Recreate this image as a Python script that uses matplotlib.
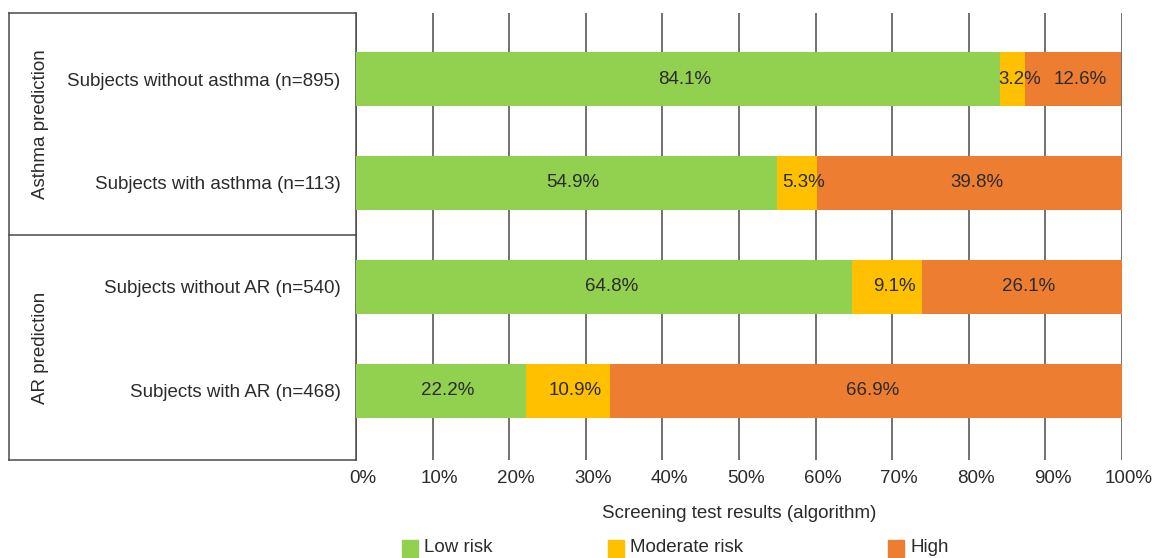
import numpy as np
import matplotlib
matplotlib.use("Agg")
import matplotlib.pyplot as plt
from matplotlib.patches import Rectangle
from matplotlib.lines import Line2D
import matplotlib.transforms as mtransforms

plt.rcParams['font.family'] = ['Liberation Sans', 'DejaVu Sans']

categories = ["Subjects without asthma (n=895)", "Subjects with asthma (n=113)",
              "Subjects without AR (n=540)", "Subjects with AR (n=468)"]
groups = ["Asthma prediction", "AR prediction"]
low_risk = [84.1, 54.9, 64.8, 22.2]
moderate_risk = [3.2, 5.3, 9.1, 10.9]
high_risk = [12.6, 39.8, 26.1, 66.9]
series_names = ["Low risk", "Moderate risk", "High"]
colors = ["#92D050", "#FFC000", "#ED7D31"]
xticks = list(range(0, 101, 10))

text_col = "#2b2b2b"
grid_col = "#4a4a4a"
fs = 13.5

fig = plt.figure(figsize=(11.58, 5.58), dpi=100)
ax = fig.add_axes([356 / 1158, 1 - 460 / 558, 766 / 1158, 447 / 558])

y = np.arange(len(categories))
left = np.zeros(len(categories))
for vals, col in zip([low_risk, moderate_risk, high_risk], colors):
    vals = np.array(vals)
    ax.barh(y, vals, left=left, height=0.52, color=col, zorder=3)
    for yi, l, v in zip(y, left, vals):
        ax.annotate(f"{v:.1f}%", (l + v / 2, yi), xytext=(5, 0), textcoords="offset points",
                    ha="center", va="center", fontsize=fs, color=text_col, zorder=4)
    left += vals

y_top, y_bot = -0.635, 3.665
ax.set_xlim(0, 100)
ax.set_ylim(y_bot, y_top)
ax.set_xticks(xticks)
ax.set_xticklabels([f"{t}%" for t in xticks], fontsize=fs, color=text_col)
ax.tick_params(axis="x", length=0, pad=7)
offset = mtransforms.ScaledTranslation(0.07, 0, fig.dpi_scale_trans)
for lab in ax.get_xticklabels():
    lab.set_transform(lab.get_transform() + offset)
ax.set_yticks(y)
ax.set_yticklabels(categories, fontsize=fs, color=text_col)
ax.tick_params(axis="y", length=0, pad=11)
ax.grid(axis="x", color=grid_col, linewidth=1.1, zorder=0)
for s in ["top", "right", "bottom"]:
    ax.spines[s].set_visible(False)
ax.spines["left"].set_color(grid_col)
ax.spines["left"].set_linewidth(1.1)
ax.set_xlabel("Screening test results (algorithm)", fontsize=fs, color=text_col, labelpad=13)

# left box with group labels
bx = -(356 - 9) / 766
tr = mtransforms.blended_transform_factory(ax.transAxes, ax.transData)
for yy in [y_top, 1.5, y_bot]:
    ax.add_line(Line2D([bx, 0], [yy, yy], transform=tr, color=grid_col, lw=1.1, clip_on=False))
ax.add_line(Line2D([bx, bx], [y_top, y_bot], transform=tr, color=grid_col, lw=1.1, clip_on=False))
gx = -(356 - 40) / 766
for g, yc in zip(groups, [(y_top + 1.5) / 2, (1.5 + y_bot) / 2]):
    ax.text(gx, yc, g, transform=tr, rotation=90, ha="center", va="center",
            fontsize=fs, color=text_col)

# legend
leg_x = [402, 608, 888]
for name, col, lx in zip(series_names, colors, leg_x):
    fig.patches.append(Rectangle((lx / 1158, 1 - 557 / 558), 16 / 1158, 17 / 558,
                                 transform=fig.transFigure, color=col))
    fig.text((lx + 22) / 1158, 1 - 548 / 558, name, fontsize=fs, color=text_col,
             ha="left", va="center")

fig.savefig("out.png", dpi=100)
